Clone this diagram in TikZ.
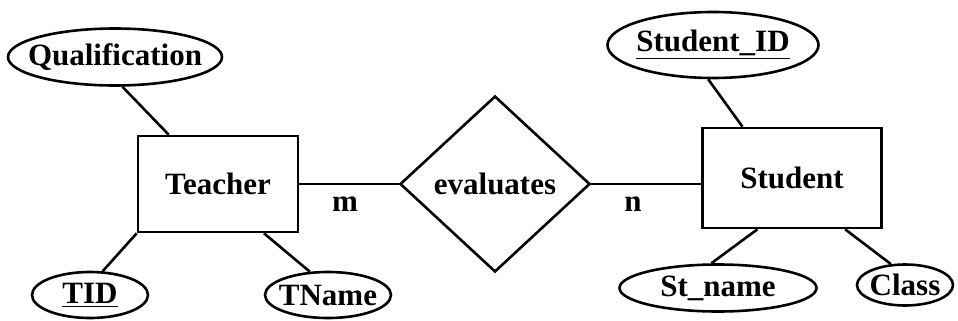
\documentclass[tikz,border=0pt]{standalone}
\usepackage{fontspec}
\setmainfont{Liberation Serif}
\usetikzlibrary{shapes.geometric}

\begin{document}
\begin{tikzpicture}
  [x=0.5pt,y=-0.5pt
  ,er/.style={draw,line width=1.3pt,inner sep=0pt
    ,font=\fontsize{15.5}{17}\selectfont\bfseries}
  ,entity/.style={er,rectangle}
  ,attrib/.style={er,ellipse,inner xsep=-8pt,inner ysep=-2pt}
  ,rel/.style={er,diamond,minimum width=95pt,minimum height=88pt}
  ,link/.style={line width=1.3pt}
  ,card/.style={font=\fontsize{15.5}{17}\selectfont\bfseries,inner sep=0pt}
  ]

  \useasboundingbox (0,0) rectangle (958,321);

  % Attribute
  %
  % #1 - name
  % #2 - position
  % #3 - width
  % #4 - height
  % #5 - text
  \newcommand{\attrib}[5]{
    \node[attrib,minimum width=#3,minimum height=#4] (#1) at (#2) {#5};
  }

  % entities
  \node[entity,minimum width=80pt,minimum height=48pt] (teacher) at (218,184) {Teacher};
  \node[entity,minimum width=89.5pt,minimum height=50pt] (student) at (792,178) {Student};

  % relationship
  \node[rel] (eval) at (495,184) {evaluates};

  % teacher attributes
  \attrib{qual}{115,57}{107pt}{28.5pt}{Qualification}
  \attrib{tid}{90,295}{58pt}{23pt}{\underline{TID}}
  \attrib{tname}{328,295}{63pt}{23pt}{TName}

  % student attributes
  \attrib{sid}{713,45}{105.5pt}{33pt}{\underline{Student\_ID}}
  \attrib{sname}{718,288}{98.5pt}{23.5pt}{St\_name}
  \attrib{class}{905,285}{48pt}{20.5pt}{Class}

  % links
  \draw[link] (qual.-76) -- (teacher.135);
  \draw[link] (tid.62) -- (teacher.south west);
  \draw[link] (tname.128) -- (teacher.-47);
  \draw[link] (sid.-98) -- (student.134);
  \draw[link] (sname.105) -- (student.-124);
  \draw[link] (class.124) -- (student.-44);

  \draw[link] (teacher.east) -- node[card,pos=0.46,below=6pt] (m) {m} (eval.west);
  \draw[link] (eval.east) -- node[card,pos=0.38,below=6pt] (n) {n} (eval.east -| student.west);

\end{tikzpicture}
\end{document}
